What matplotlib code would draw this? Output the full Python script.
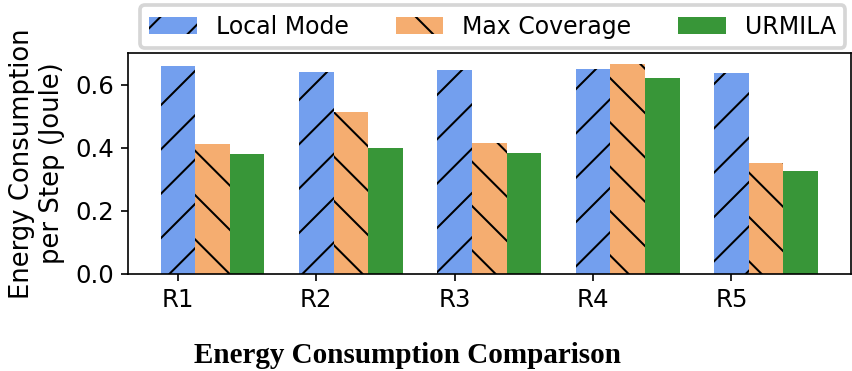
import numpy as np
from matplotlib import pyplot as plt

# values
regions = ['R1', 'R2', 'R3', 'R4', 'R5']
local_mode = [0.660, 0.640, 0.648, 0.651, 0.636]
max_coverage = [0.413, 0.512, 0.414, 0.667, 0.351]
urmila = [0.379, 0.398, 0.382, 0.621, 0.325]


def main():
    # the picture is drawn at ~266 px per inch, so sizes in points are small
    plt.rcParams['font.family'] = 'DejaVu Sans'
    plt.rcParams['font.size'] = 6.6
    plt.rcParams['axes.linewidth'] = 0.45
    plt.rcParams['hatch.linewidth'] = 0.55
    for ax_name in ('xtick', 'ytick'):
        plt.rcParams[ax_name + '.major.size'] = 1.9
        plt.rcParams[ax_name + '.major.width'] = 0.45
        plt.rcParams[ax_name + '.major.pad'] = 1.9

    fig = plt.figure(figsize=(852 / 266, 371 / 266), dpi=266)
    ax = fig.add_axes([0.150, 0.2615, 0.8486, 0.5955])

    x = np.arange(len(regions))
    w = 0.25
    ax.bar(x, local_mode, w, color='cornflowerblue', alpha=0.9, hatch='//', label='Local Mode')
    ax.bar(x + w, max_coverage, w, color='sandybrown', alpha=0.9, hatch='\\\\', label='Max Coverage')
    ax.bar(x + 2 * w, urmila, w, color='forestgreen', alpha=0.9, label='URMILA')

    ax.set_xticks(x)
    ax.set_xticklabels(regions)
    ax.set_yticks([0.0, 0.2, 0.4, 0.6])
    ax.set_ylabel('Energy Consumption\nper Step (Joule)', fontsize=7.0, labelpad=2.6)

    fig.legend(loc='lower left', bbox_to_anchor=(140 / 852, 1 - 48 / 371),
               bbox_transform=fig.transFigure, borderaxespad=0, ncol=3, fontsize=6.4)

    fig.text(407 / 852, 8 / 371, 'Energy Consumption Comparison', ha='center', va='baseline',
             family='Liberation Serif', weight='bold', fontsize=7.9)

    fig.savefig('out.png', dpi=266)


if __name__ == "__main__":
    main()
